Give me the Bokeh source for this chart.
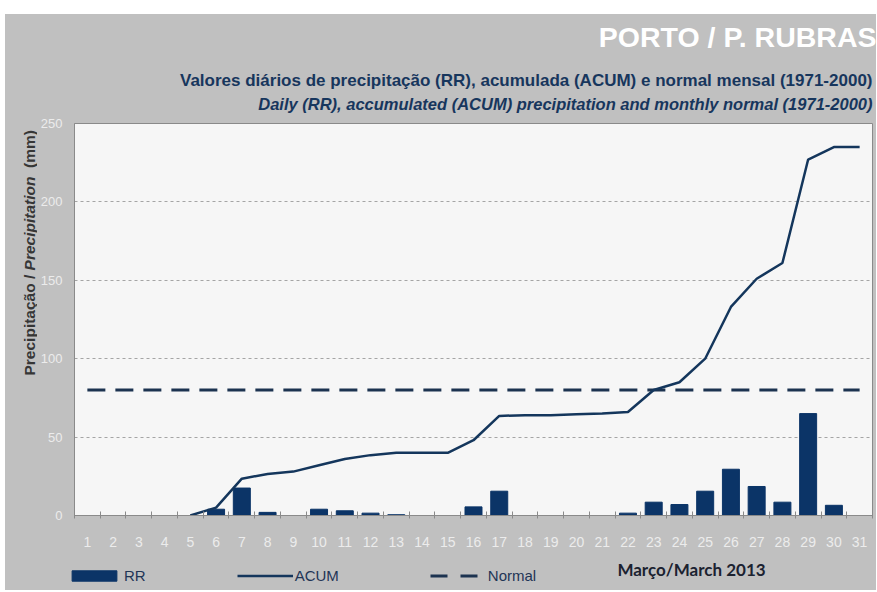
import math
from bokeh.plotting import figure
from bokeh.models import Range1d, FixedTicker, Label, Legend, LegendItem, Spacer
from bokeh.layouts import column, row
from bokeh.embed import file_html
from bokeh.resources import INLINE

# ---- data ----
days = list(range(1, 32))
day_labels = [str(d) for d in days]
rr = [0, 0, 0, 0, 0, 4, 17.5, 2, 0, 4, 3, 1.5, 0.5, 0, 0, 5.5, 15.5, 0, 0, 0,
      0, 1.5, 8.5, 7, 15.5, 29.5, 18.5, 8.5, 65, 6.5, 0]
nan = float("nan")
acum = [nan, nan, nan, nan, 0, 5, 23.5, 26.5, 28, 32, 36, 38.5, 40, 40, 40, 48,
        63.5, 64, 64, 64.5, 65, 66, 80, 85, 100, 133, 151, 161, 227, 235, 235]
normal = [80] * 31
y_ticks = [0, 50, 100, 150, 200, 250]
grid_ticks = [50, 100, 150, 200]

title_text = "PORTO / P. RUBRAS"
sub1 = "Valores diários de precipitação (RR), acumulada (ACUM) e normal mensal (1971-2000)"
sub2 = "Daily (RR), accumulated (ACUM) precipitation and monthly normal (1971-2000)"
ylab_parts = ["Precipitação /", "Precipitation", "(mm)"]
month_text = "Março/March 2013"

BG = "#c0c0c0"
NAVY = "#0b3467"
LINE = "#14365c"
NORM = "#1c3350"
FONT = "'Liberation Sans', Arial, sans-serif"


def strip(w, h):
    f = figure(width=w, height=h, output_backend="svg", toolbar_location=None,
               x_axis_type=None, y_axis_type=None,
               x_range=Range1d(1000, 1001), y_range=Range1d(1000, 1001),
               min_border=0, min_border_left=0, min_border_right=0,
               min_border_top=0, min_border_bottom=0)
    f.background_fill_color = BG
    f.border_fill_color = BG
    f.outline_line_color = None
    f.grid.visible = False
    return f


# ---------------- top strip: titles ----------------
TOP_H = 101
top = strip(871, TOP_H)
top.add_layout(Label(x=871, y=79, x_units="screen", y_units="screen",
                     text=title_text, text_align="right", text_baseline="middle",
                     text_color="white", text_font=FONT, text_font_style="bold",
                     text_font_size="28.5px"))
top.add_layout(Label(x=867, y=35, x_units="screen", y_units="screen",
                     text=sub1, text_align="right", text_baseline="middle",
                     text_color="#17365d", text_font=FONT, text_font_style="bold",
                     text_font_size="17px"))
top.add_layout(Label(x=867, y=12, x_units="screen", y_units="screen",
                     text=sub2, text_align="right", text_baseline="middle",
                     text_color="#17365d", text_font=FONT,
                     text_font_style="bold italic", text_font_size="16.5px"))

# ---------------- main chart ----------------
MAIN_H = 440
LEFT_W = 32
p = figure(width=871 - LEFT_W, height=MAIN_H, output_backend="svg",
           toolbar_location=None,
           x_range=Range1d(0.5, 31.5), y_range=Range1d(0, 250),
           min_border_left=68 - LEFT_W, min_border_right=4, min_border_top=8,
           min_border_bottom=MAIN_H - 8 - 392)
p.background_fill_color = "#f6f6f6"
p.border_fill_color = BG
p.outline_line_color = "#8a8a8a"

p.xgrid.grid_line_color = None
p.ygrid.ticker = FixedTicker(ticks=grid_ticks)
p.ygrid.grid_line_color = "#a5a5a5"
p.ygrid.grid_line_dash = "3 3"

xa = p.xaxis[0]
xa.ticker = FixedTicker(ticks=days, minor_ticks=[d + 0.5 for d in range(0, 32)])
xa.major_label_overrides = {d: lab for d, lab in zip(days, day_labels)}
xa.major_tick_line_color = None
xa.major_tick_in = 0
xa.major_tick_out = 0
xa.minor_tick_line_color = "#8a8a8a"
xa.minor_tick_in = 4
xa.minor_tick_out = 3
xa.axis_line_color = "#8a8a8a"
xa.major_label_standoff = 18
xa.major_label_text_color = "#ececec"
xa.major_label_text_font = FONT
xa.major_label_text_font_size = "14px"

ya = p.yaxis[0]
ya.ticker = FixedTicker(ticks=y_ticks)
ya.major_tick_line_color = None
ya.major_tick_in = 0
ya.major_tick_out = 0
ya.minor_tick_line_color = None
ya.axis_line_color = "#8a8a8a"
ya.major_label_standoff = 12
ya.major_label_text_color = "#ececec"
ya.major_label_text_font = FONT
ya.major_label_text_font_size = "13px"

p.vbar(x=days, top=rr, width=0.66, fill_color=NAVY, line_color=NAVY)
p.line(days, normal, line_color=NORM, line_width=3, line_dash="18 10")
p.line(days, acum, line_color=LINE, line_width=2.5)

# ---------------- left strip: y-axis title ----------------
# the strip's frame is aligned with the chart frame (page y 123..515)
left = strip(LEFT_W, MAIN_H)
fs = 15.5
w1 = (6.503 + 0.278) * fs        # "Precipitação / "
w2 = (6.057 + 0.556) * fs        # "Precipitation  "
y0 = 515 - 375
pos = [y0, y0 + w1, y0 + w1 + w2]
styles = ["bold", "bold italic", "bold"]
for txt, yy, st in zip(ylab_parts, pos, styles):
    left.add_layout(Label(x=24, y=yy, x_units="screen", y_units="screen",
                          text=txt, angle=math.pi / 2, text_align="left",
                          text_baseline="middle", text_color="#363636",
                          text_font=FONT, text_font_style=st,
                          text_font_size=f"{fs}px"))

# ---------------- bottom strip: legend + month ----------------
bot = strip(871, 35)
r_bar = bot.vbar(x=days, top=rr, width=0.5, fill_color=NAVY, line_color=NAVY)
r_ac = bot.line(x=days, y=acum, line_color=LINE, line_width=2.5)
r_nm = bot.line(x=days, y=normal, line_color=NORM, line_width=3, line_dash="17 13")
legend = Legend(items=[LegendItem(label="RR", renderers=[r_bar]),
                       LegendItem(label="ACUM", renderers=[r_ac]),
                       LegendItem(label="Normal", renderers=[r_nm])],
                location=(61, 6), orientation="horizontal",
                glyph_width=56, glyph_height=13, spacing=91, label_standoff=2,
                padding=0, margin=0, background_fill_alpha=0,
                border_line_color=None, label_text_font=FONT,
                label_text_font_size="15px", label_text_color="#1f3556")
bot.add_layout(legend)
bot.add_layout(Label(x=686, y=21, x_units="screen", y_units="screen",
                     text=month_text, text_align="center", text_baseline="middle",
                     text_color="#1b2230", text_font="Lato", text_font_style="bold",
                     text_font_size="17px"))

inner = column(top, row(left, p, spacing=0), bot, spacing=0,
               styles={"background-color": BG})
layout = column(Spacer(height=14, width=876),
                row(Spacer(width=5, height=TOP_H + MAIN_H + 35), inner, spacing=0),
                spacing=0)
open("out.html", "w").write(file_html(layout, INLINE))
